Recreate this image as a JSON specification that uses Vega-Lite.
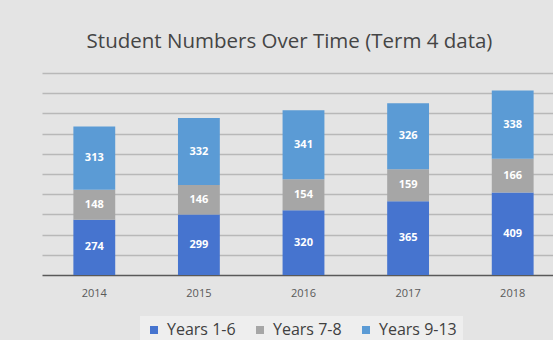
{
  "$schema": "https://vega.github.io/schema/vega-lite/v6.json",
  "width": 523,
  "height": 202,
  "autosize": {"type": "none"},
  "padding": {"left": 42, "top": 73, "right": 0, "bottom": 65},
  "background": "#e4e4e4",
  "title": {
    "text": "Student Numbers Over Time (Term 4 data)",
    "font": "Open Sans",
    "fontSize": 20.5,
    "fontWeight": "normal",
    "color": "#454545",
    "anchor": "middle",
    "baseline": "middle",
    "dx": -14,
    "offset": 11
  },
  "config": {
    "view": {"stroke": null},
    "font": "Open Sans"
  },
  "data": {
    "values": [
      {"year": "2014", "group": "Years 1-6", "value": 274},
      {"year": "2014", "group": "Years 7-8", "value": 148},
      {"year": "2014", "group": "Years 9-13", "value": 313},
      {"year": "2015", "group": "Years 1-6", "value": 299},
      {"year": "2015", "group": "Years 7-8", "value": 146},
      {"year": "2015", "group": "Years 9-13", "value": 332},
      {"year": "2016", "group": "Years 1-6", "value": 320},
      {"year": "2016", "group": "Years 7-8", "value": 154},
      {"year": "2016", "group": "Years 9-13", "value": 341},
      {"year": "2017", "group": "Years 1-6", "value": 365},
      {"year": "2017", "group": "Years 7-8", "value": 159},
      {"year": "2017", "group": "Years 9-13", "value": 326},
      {"year": "2018", "group": "Years 1-6", "value": 409},
      {"year": "2018", "group": "Years 7-8", "value": 166},
      {"year": "2018", "group": "Years 9-13", "value": 338}
    ]
  },
  "transform": [
    {"stack": "value", "groupby": ["year"], "sort": [{"field": "group", "order": "ascending"}], "as": ["v0", "v1"]},
    {"calculate": "(datum.v0 + datum.v1) / 2", "as": "mid"}
  ],
  "encoding": {
    "x": {
      "field": "year",
      "type": "nominal",
      "scale": {"paddingInner": 0.6, "paddingOuter": 0.3},
      "axis": {
        "title": null,
        "labelAngle": 0,
        "labelFont": "Open Sans",
        "labelFontSize": 11,
        "labelColor": "#595959",
        "labelPadding": 12,
        "ticks": false,
        "domainColor": "#595959",
        "domainWidth": 1.5
      }
    }
  },
  "layer": [
    {
      "mark": {"type": "bar"},
      "encoding": {
        "y": {
          "field": "v0",
          "type": "quantitative",
          "scale": {"domain": [0, 1000]},
          "axis": {
            "title": null,
            "labels": false,
            "ticks": false,
            "domain": false,
            "tickCount": 10,
            "values": [100, 200, 300, 400, 500, 600, 700, 800, 900, 1000],
            "gridColor": "#b8b8b8",
            "gridWidth": 1.5
          }
        },
        "y2": {"field": "v1"},
        "color": {
          "field": "group",
          "type": "nominal",
          "scale": {
            "domain": ["Years 1-6", "Years 7-8", "Years 9-13"],
            "range": ["#4674cf", "#a6a6a6", "#5b9bd5"]
          },
          "legend": {
            "title": null,
            "orient": "none",
            "direction": "horizontal",
            "legendX": 98,
            "legendY": 243,
            "symbolType": "square",
            "symbolSize": 64,
            "symbolStrokeWidth": 0,
            "labelFont": "Open Sans",
            "labelFontSize": 16,
            "labelColor": "#404040",
            "columnPadding": 16,
            "labelOffset": 5,
            "fillColor": "#eeeeee",
            "padding": 6
          }
        }
      }
    },
    {
      "mark": {"type": "text", "color": "white", "fontSize": 11, "fontWeight": "bold", "font": "Open Sans", "baseline": "middle"},
      "encoding": {
        "y": {"field": "mid", "type": "quantitative"},
        "text": {"field": "value", "type": "quantitative"}
      }
    }
  ]
}
